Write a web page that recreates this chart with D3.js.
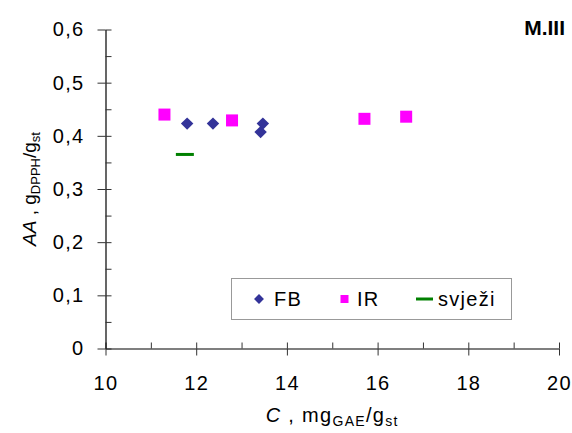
<!DOCTYPE html>
<html><head><meta charset="utf-8">
<script src="https://cdn.jsdelivr.net/npm/d3@7"></script>
<style>body{margin:0;background:#fff}svg{display:block}text{font-family:"Liberation Sans",Arial,sans-serif}</style>
</head><body>
<script>
// Data
const fbX = [11.80, 12.37, 13.47, 13.42];
const fbY = [0.423, 0.423, 0.423, 0.407];
const irX = [11.30, 12.79, 15.71, 16.63];
const irY = [0.440, 0.429, 0.432, 0.436];
const svjeziX = [11.75];
const svjeziY = [0.365];
const xTicks = [10, 12, 14, 16, 18, 20];
const xMinor = [11, 13, 15, 17, 19];
const yTicks = [0, 0.1, 0.2, 0.3, 0.4, 0.5, 0.6];
const yMinor = [0.05, 0.15, 0.25, 0.35, 0.45, 0.55];
const yTickLabels = ["0", "0,1", "0,2", "0,3", "0,4", "0,5", "0,6"];
const legendItems = ["FB", "IR", "svježi"];
const panelTitle = "M.III";

const W = 572, H = 433;
const svg = d3.select("body").append("svg").attr("width", W).attr("height", H);
const x = d3.scaleLinear().domain([10, 20]).range([105.5, 559]);
const y = d3.scaleLinear().domain([0, 0.6]).range([348.5, 29.5]);
const fs = 20, ls = 1.3;

// X axis
const gx = svg.append("g").attr("transform", `translate(0,${y(0)})`);
gx.call(d3.axisBottom(x).tickValues(xTicks).tickSize(7).tickSizeOuter(0).tickPadding(20).tickFormat(d3.format("d")));
gx.selectAll(".tick line").clone().attr("y2", -6);
const gxm = svg.append("g").attr("transform", `translate(0,${y(0)})`);
gxm.call(d3.axisTop(x).tickValues(xMinor).tickSize(6).tickSizeOuter(0).tickFormat(""));
gxm.select(".domain").remove();

// Y axis
const gy = svg.append("g").attr("transform", `translate(${x(10)},0)`);
gy.call(d3.axisLeft(y).tickValues(yTicks).tickSize(8).tickSizeOuter(0).tickPadding(13).tickFormat((d, i) => yTickLabels[i]));
gy.selectAll(".tick line").clone().attr("x2", 6);
const gym = svg.append("g").attr("transform", `translate(${x(10)},0)`);
gym.call(d3.axisRight(y).tickValues(yMinor).tickSize(6).tickSizeOuter(0).tickFormat(""));
gym.select(".domain").remove();

svg.selectAll(".domain").attr("stroke", "#000").attr("stroke-width", 1.2);
svg.selectAll(".tick line").attr("stroke", "#333").attr("stroke-width", 1);
svg.selectAll(".tick text").attr("font-size", fs).attr("fill", "#000")
  .attr("letter-spacing", ls).attr("font-family", "Liberation Sans, Arial, sans-serif");

// Points
svg.append("g").selectAll("rect").data(fbX.map((v, i) => [v, fbY[i]])).join("rect")
  .attr("x", -4.4).attr("y", -4.4).attr("width", 8.8).attr("height", 8.8)
  .attr("transform", d => `translate(${x(d[0])},${y(d[1])}) rotate(45)`)
  .attr("fill", "#333399");
svg.append("g").selectAll("rect").data(irX.map((v, i) => [v, irY[i]])).join("rect")
  .attr("x", d => x(d[0]) - 6).attr("y", d => y(d[1]) - 6).attr("width", 12).attr("height", 12)
  .attr("fill", "#ff00ff");
svg.append("g").selectAll("line").data(svjeziX.map((v, i) => [v, svjeziY[i]])).join("line")
  .attr("x1", d => x(d[0]) - 9).attr("x2", d => x(d[0]) + 9)
  .attr("y1", d => y(d[1])).attr("y2", d => y(d[1]))
  .attr("stroke", "#008000").attr("stroke-width", 3);

// Legend
const lg = svg.append("g");
lg.append("rect").attr("x", 231.5).attr("y", 278.5).attr("width", 280).attr("height", 41)
  .attr("fill", "#fff").attr("stroke", "#999").attr("stroke-width", 1);
const ly = 299;
lg.append("rect").attr("x", -3.5).attr("y", -3.5).attr("width", 7).attr("height", 7)
  .attr("transform", `translate(259,${ly}) rotate(45)`).attr("fill", "#333399");
lg.append("rect").attr("x", 340.5).attr("y", ly - 4).attr("width", 8).attr("height", 8).attr("fill", "#ff00ff");
lg.append("line").attr("x1", 416).attr("x2", 433).attr("y1", ly).attr("y2", ly).attr("stroke", "#008000").attr("stroke-width", 3);
const lx = [274, 357, 438];
legendItems.forEach((t, i) => {
  lg.append("text").attr("x", lx[i]).attr("y", ly + 7).attr("font-size", fs)
    .attr("letter-spacing", ls).text(t);
});

// Axis titles
const xt = svg.append("text").attr("x", x(15)).attr("y", 422).attr("text-anchor", "middle")
  .attr("font-size", fs).attr("letter-spacing", ls);
xt.append("tspan").attr("font-style", "italic").text("C");
xt.append("tspan").text(" , mg");
xt.append("tspan").attr("font-size", 14).attr("dy", 4).text("GAE");
xt.append("tspan").attr("dy", -4).text("/g");
xt.append("tspan").attr("font-size", 14).attr("dy", 4).text("st");

const yt = svg.append("text").attr("transform", `translate(36,${(y(0) + y(0.6)) / 2}) rotate(-90)`)
  .attr("text-anchor", "middle").attr("font-size", 19);
yt.append("tspan").attr("font-style", "italic").text("AA");
yt.append("tspan").text(" , g");
yt.append("tspan").attr("font-size", 13).attr("dy", 4).text("DPPH");
yt.append("tspan").attr("dy", -4).text("/g");
yt.append("tspan").attr("font-size", 13).attr("dy", 4).text("st");

// Panel title
svg.append("text").attr("x", 565).attr("y", 35).attr("text-anchor", "end")
  .attr("font-size", 21).attr("font-weight", "bold").text(panelTitle);
</script>
</body></html>
